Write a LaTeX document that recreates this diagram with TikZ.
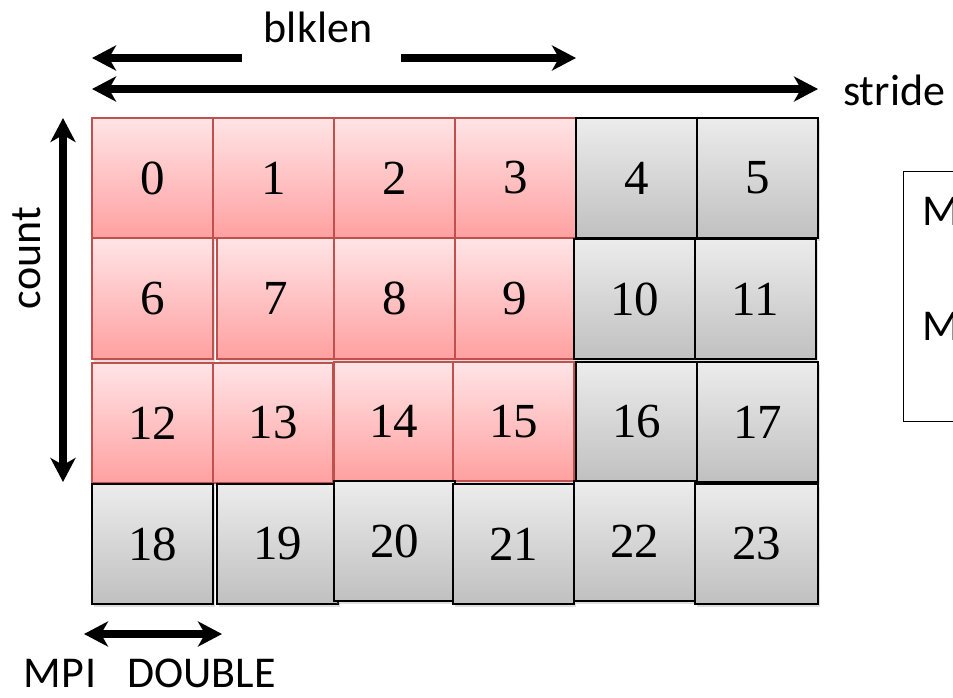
\documentclass[tikz,border=0pt]{standalone}
\usepackage{fontspec}
\setmainfont{Liberation Serif}
\newfontfamily\labfont{Carlito}
\usetikzlibrary{arrows.meta,shadows}
\definecolor{redtop}{RGB}{255,228,230}
\definecolor{redbot}{RGB}{255,160,160}
\definecolor{redline}{RGB}{192,80,77}
\definecolor{graytop}{RGB}{236,236,236}
\definecolor{graybot}{RGB}{192,192,192}
\tikzset{
  cellbase/.style={rectangle, inner sep=0pt, outer sep=0pt, line width=1.5pt,
     font=\fontsize{49}{49}\selectfont,
     drop shadow={opacity=0.25, shadow xshift=2pt, shadow yshift=-3pt}},
  redcell/.style={cellbase, draw=redline, top color=redtop, bottom color=redbot},
  graycell/.style={cellbase, draw=black, top color=graytop, bottom color=graybot},
  dimarrow/.style={line width=8pt, {Stealth[length=24pt,width=25pt,inset=7pt]}-{Stealth[length=24pt,width=25pt,inset=7pt]}},
  leftarrow/.style={line width=8pt, {Stealth[length=24pt,width=25pt,inset=7pt]}-},
  rightarrow/.style={line width=8pt, -{Stealth[length=24pt,width=25pt,inset=7pt]}},
  lab/.style={font=\labfont\fontsize{44}{44}\selectfont, inner sep=0pt},
}
% \cellat{name}{x1}{y1}{x2}{y2}{style}{text}
\newcommand{\cellat}[7]{%
  \pgfmathsetmacro{\cw}{#4-#2}\pgfmathsetmacro{\ch}{#5-#3}%
  \node[#6, minimum width=\cw pt, minimum height=\ch pt] (#1) at ({(#2+#4)/2},{(#3+#5)/2}) {#7};}
\begin{document}
\begin{tikzpicture}[x=1pt,y=-1pt]
\useasboundingbox (0,0) rectangle (953,697);
\clip (0,0) rectangle (953,697);
\fill[white] (0,0) rectangle (953,697);
% row 1
\cellat{c0}{92}{118}{213}{238}{redcell}{0}
\cellat{c1}{213}{118}{334}{238}{redcell}{1}
\cellat{c2}{334}{118}{455}{238}{redcell}{2}
\cellat{c3}{455}{118}{576}{238}{redcell}{3}
\cellat{c4}{576}{118}{697}{238}{graycell}{4}
\cellat{c5}{697}{118}{818}{238}{graycell}{5}
% row 2
\cellat{c6}{92}{238}{213}{359}{redcell}{6}
\cellat{c7}{217}{238}{334}{359}{redcell}{7}
\cellat{c8}{334}{238}{455}{359}{redcell}{8}
\cellat{c9}{455}{238}{574}{359}{redcell}{9}
\cellat{c10}{574}{239}{695}{359}{graycell}{10}
\cellat{c11}{695}{239}{816}{359}{graycell}{11}
% row 3
\cellat{c12}{92}{363}{213}{483}{redcell}{12}
\cellat{c13}{213}{363}{333}{483}{redcell}{13}
\cellat{c14}{334}{362}{453}{481}{redcell}{14}
\cellat{c15}{453}{362}{574}{481}{redcell}{15}
\cellat{c16}{576}{362}{697}{482}{graycell}{16}
\cellat{c17}{697}{362}{818}{482}{graycell}{17}
% row 4
\cellat{c18}{92}{484}{213}{604}{graycell}{18}
\cellat{c19}{217}{484}{338}{604}{graycell}{19}
\cellat{c20}{334}{481}{455}{601}{graycell}{20}
\cellat{c21}{453}{484}{574}{604}{graycell}{21}
\cellat{c22}{574}{481}{695}{601}{graycell}{22}
\cellat{c23}{695}{484}{818}{604}{graycell}{23}
% arrows
\coordinate (bl1) at (92,58);  \coordinate (bl2) at (242,58);
\coordinate (bl3) at (401,58); \coordinate (bl4) at (576,58);
\draw[leftarrow] (bl1) -- (bl2);
\draw[rightarrow] (bl3) -- (bl4);
\node[lab, anchor=base] (blklen) at (318,42) {blklen};
\coordinate (st1) at (92,89); \coordinate (st2) at (818,89);
\draw[dimarrow] (st1) -- (st2);
\node[lab, anchor=base west] (stride) at (843,105) {stride};
\coordinate (co1) at (63,118); \coordinate (co2) at (63,482);
\draw[dimarrow] (co1) -- (co2);
\node[lab, rotate=90, anchor=base] (count) at (40,258) {count};
\coordinate (md1) at (84,634); \coordinate (md2) at (222,634);
\draw[dimarrow] (md1) -- (md2);
\node[lab, anchor=base west] (mpid) at (23,687) {M\kern1ptP\kern1ptI\hspace{0.7em}DOUBLE};
% right box (clipped at the picture's edge, as in the reference)
\node[draw=black, line width=1.2pt, rectangle, minimum width=120pt, minimum height=250pt, anchor=north west, inner sep=0pt] (box) at (903,171) {};
\node[lab, anchor=base west] (m1) at (922,225) {M};
\node[lab, anchor=base west] (m2) at (922,340) {M};
\end{tikzpicture}
\end{document}
